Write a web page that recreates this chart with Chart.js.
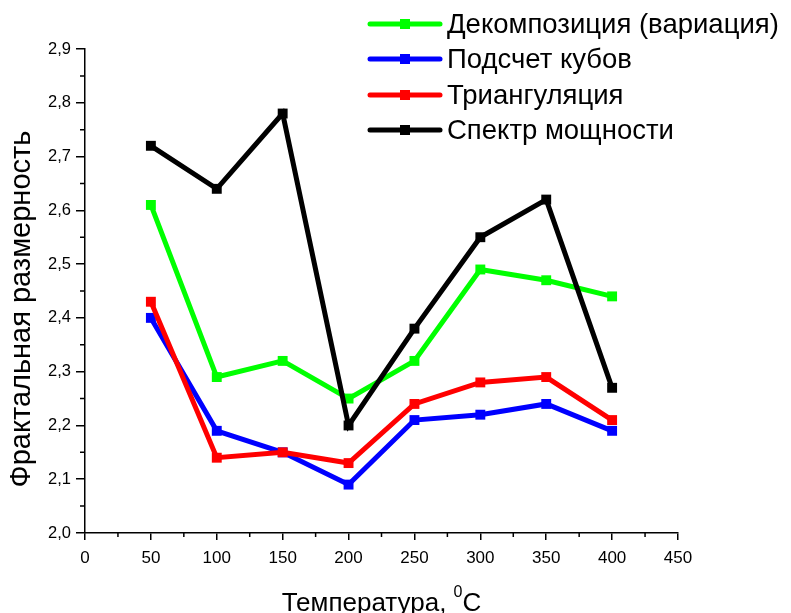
<!DOCTYPE html>
<html>
<head>
<meta charset="utf-8">
<script src="https://cdn.jsdelivr.net/npm/chart.js@4"></script>
<style>
  body { margin: 0; background: #fff; }
  #wrap { width: 791px; height: 613px; }
</style>
</head>
<body>
<div id="wrap"><canvas id="myChart" width="791" height="613"></canvas></div>
<script>
var temps = [50, 100, 150, 200, 250, 300, 350, 400];
var decomposition = [2.61, 2.29, 2.32, 2.25, 2.32, 2.49, 2.47, 2.44];
var cubeCount = [2.40, 2.19, 2.15, 2.09, 2.21, 2.22, 2.24, 2.19];
var triangulation = [2.43, 2.14, 2.15, 2.13, 2.24, 2.28, 2.29, 2.21];
var powerSpectrum = [2.72, 2.64, 2.78, 2.20, 2.38, 2.55, 2.62, 2.27];
var seriesNames = ['Декомпозиция (вариация)', 'Подсчет кубов', 'Триангуляция', 'Спектр мощности'];
var seriesColors = ['#00ff00', '#0000ff', '#ff0000', '#000000'];

var font = "Arial, 'Liberation Sans', sans-serif";
var narrow = "'Liberation Sans Narrow', 'Arial Narrow', Arial, sans-serif";

function pts(values) {
  return values.map(function (v, i) { return { x: temps[i], y: v }; });
}

function makeSet(i, values, order) {
  return {
    label: seriesNames[i],
    data: pts(values),
    borderColor: seriesColors[i],
    backgroundColor: seriesColors[i],
    borderWidth: 5,
    pointStyle: 'rect',
    pointRadius: 7,
    pointBorderWidth: 0,
    tension: 0,
    order: order,
  };
}

// minor ticks between the major ones, plus the axis titles and legend
var decorations = {
  id: 'decorations',
  afterDraw: function (chart) {
    var c = chart.ctx;
    var xs = chart.scales.x, ys = chart.scales.y;
    c.save();
    c.strokeStyle = '#000';
    c.lineWidth = 1.5;
    c.beginPath();
    for (var v = 25; v < 450; v += 50) {
      var px = xs.getPixelForValue(v);
      c.moveTo(px, xs.top);
      c.lineTo(px, xs.top + 4);
    }
    for (var w = 2.05; w < 2.9; w += 0.1) {
      var py = ys.getPixelForValue(w);
      c.moveTo(ys.right, py);
      c.lineTo(ys.right - 5, py);
    }
    c.stroke();

    // x title with superscript degree zero
    c.fillStyle = '#000';
    c.textBaseline = 'alphabetic';
    c.font = '26px ' + font;
    var main = 'Температура, ';
    var mw = c.measureText(main).width;
    c.font = '16px ' + font;
    var sw = c.measureText('0').width;
    c.font = '26px ' + font;
    var cw = c.measureText('C').width;
    var x0 = (xs.left + xs.right) / 2 - (mw + sw + cw) / 2;
    c.textAlign = 'left';
    c.fillText(main, x0, 611);
    c.font = '16px ' + font;
    c.fillText('0', x0 + mw, 597);
    c.font = '26px ' + font;
    c.fillText('C', x0 + mw + sw, 611);

    // y title
    c.translate(22, 309);
    c.rotate(-Math.PI / 2);
    c.textAlign = 'center';
    c.textBaseline = 'middle';
    c.font = '29px ' + font;
    c.fillText('Фрактальная размерность', 0, 0);
    c.restore();

    // legend
    c.save();
    var rows = [24, 59, 95, 130];
    chart.data.datasets.forEach(function (ds, i) {
      var y = rows[i];
      c.strokeStyle = ds.borderColor;
      c.lineWidth = 5;
      c.lineCap = 'round';
      c.beginPath();
      c.moveTo(370, y);
      c.lineTo(440, y);
      c.stroke();
      c.fillStyle = ds.borderColor;
      c.fillRect(400, y - 5, 10, 10);
      c.fillStyle = '#000';
      c.font = '27.5px ' + font;
      c.textAlign = 'left';
      c.textBaseline = 'middle';
      c.fillText(ds.label, 447, y + 1);
    });
    c.restore();
  }
};

var ctx = document.getElementById('myChart').getContext('2d');

var myChart = new Chart(ctx, {
  type: 'line',
  data: {
    datasets: [
      makeSet(0, decomposition, 3),
      makeSet(1, cubeCount, 2),
      makeSet(2, triangulation, 1),
      makeSet(3, powerSpectrum, 0),
    ],
  },
  options: {
    responsive: false,
    animation: false,
    layout: { padding: { left: 0, top: 49, right: 113, bottom: 0 } },
    plugins: {
      legend: { display: false },
      tooltip: { enabled: false },
    },
    scales: {
      x: {
        type: 'linear',
        min: 0,
        max: 450,
        afterFit: function (s) { s.height = 80; },
        border: { color: '#000', width: 1.5 },
        grid: { drawOnChartArea: false, color: '#000', tickLength: 7, lineWidth: 1.5 },
        ticks: {
          stepSize: 50,
          color: '#000',
          padding: 8,
          font: { family: narrow, size: 17 },
        },
      },
      y: {
        min: 2.0,
        max: 2.9,
        afterFit: function (s) { s.width = 85; },
        border: { color: '#000', width: 1.5 },
        grid: { drawOnChartArea: false, color: '#000', tickLength: 9, lineWidth: 1.5 },
        ticks: {
          stepSize: 0.1,
          color: '#000',
          padding: 5,
          font: { family: font, size: 16.5 },
          callback: function (v) { return v.toFixed(1).replace('.', ','); },
        },
      },
    },
  },
  plugins: [decorations],
});
</script>
</body>
</html>
